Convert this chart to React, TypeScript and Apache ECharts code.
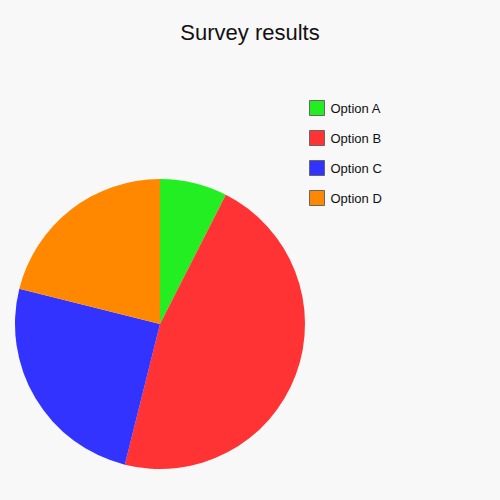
import React, { useEffect, useRef } from "react";
import * as echarts from "echarts";

const title = "Survey results";
const categories = ["Option A", "Option B", "Option C", "Option D"];
const values = [7.5, 46.4, 25, 21.1];
const colors = ["#22ee22", "#ff3333", "#3333ff", "#ff8800"];

export default function App() {
  const ref = useRef<HTMLDivElement>(null);
  useEffect(() => {
    document.body.style.margin = "0";
    const chart = echarts.init(ref.current!, null, { renderer: "svg" });
    chart.setOption({
      animation: false,
      backgroundColor: "#f8f8f8",
      title: {
        text: title,
        left: "center",
        top: 16,
        textStyle: { fontFamily: "Liberation Sans", fontSize: 22, fontWeight: "normal", color: "#111" },
      },
      legend: {
        orient: "vertical",
        left: 304,
        top: 95,
        itemWidth: 15,
        itemHeight: 15,
        itemGap: 14,
        icon: "rect",
        data: categories,
        itemStyle: { borderColor: "#666", borderWidth: 1 },
        textStyle: { fontFamily: "Liberation Sans", fontSize: 13, color: "#111", padding: [0, 0, 0, 1] },
      },
      series: [
        {
          type: "pie",
          center: [160, 324],
          radius: 145,
          startAngle: 90,
          clockwise: true,
          label: { show: false },
          labelLine: { show: false },
          emphasis: { disabled: true },
          data: categories.map((name, i) => ({ name, value: values[i], itemStyle: { color: colors[i] } })),
        },
      ],
    });
    return () => chart.dispose();
  }, []);
  return <div ref={ref} style={{ width: 500, height: 500 }} />;
}
